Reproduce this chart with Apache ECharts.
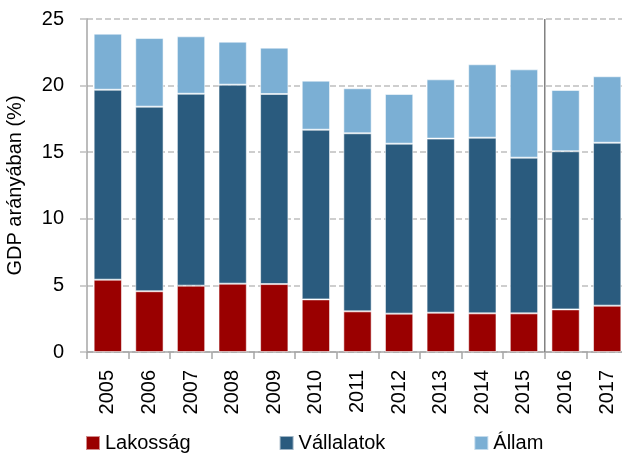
<!DOCTYPE html>
<html>
<head>
<meta charset="utf-8">
<script src="https://cdn.jsdelivr.net/npm/echarts@6/dist/echarts.min.js"></script>
<style>
  html, body { margin: 0; padding: 0; background: #fff; }
  #chart { width: 622px; height: 455px; }
</style>
</head>
<body>
<div id="chart"></div>
<script>
// adatok (GDP arányában, %)
var years = ['2005', '2006', '2007', '2008', '2009', '2010', '2011', '2012', '2013', '2014', '2015', '2016', '2017'];
var lakossag = [5.43, 4.56, 4.98, 5.13, 5.10, 3.95, 3.05, 2.88, 2.95, 2.90, 2.90, 3.20, 3.48];
var vallalatok = [14.26, 13.86, 14.41, 14.94, 14.27, 12.74, 13.37, 12.76, 13.07, 13.19, 11.69, 11.87, 12.23];
var allam = [4.21, 5.15, 4.31, 3.23, 3.48, 3.68, 3.38, 3.73, 4.45, 5.51, 6.63, 4.60, 4.99];
var yTicks = [0, 5, 10, 15, 20, 25];
// függőleges elválasztó 2015 és 2016 között
var dividerPos = 10.5;

var font = 'Liberation Sans';
var chart = echarts.init(document.getElementById('chart'));

function barSeries (name, data, color) {
  return {
    name: name,
    type: 'bar',
    stack: 'gdp',
    barCategoryGap: '32%',
    data: data,
    itemStyle: {
      color: color,
      borderColor: 'rgba(255,255,255,0.55)',
      borderWidth: 1
    }
  };
}

chart.setOption({
  animation: false,
  textStyle: { fontFamily: font },
  grid: { left: 87, top: 19, right: -6, bottom: 103, outerBoundsMode: 'none', containLabel: false },
  legend: {
    left: 85,
    top: 433,
    padding: 0,
    itemWidth: 14,
    itemHeight: 14,
    itemGap: 88,
    icon: 'rect',
    textStyle: { fontSize: 20, color: '#000', fontFamily: font },
    data: ['Lakosság', 'Vállalatok', 'Állam']
  },
  xAxis: [{
    type: 'category',
    data: years,
    axisLine: { lineStyle: { color: '#A6A6A6', width: 1.5 } },
    axisTick: { show: true, length: 7, lineStyle: { color: '#A6A6A6', width: 1.5 } },
    axisLabel: { rotate: 90, margin: 18, fontSize: 20, color: '#000', fontFamily: font, interval: 0 },
    splitLine: { show: false }
  }, {
    // rejtett numerikus tengely az elválasztó vonalhoz
    type: 'value',
    min: -0.5,
    max: years.length - 0.5,
    show: false
  }],
  yAxis: {
    type: 'value',
    min: yTicks[0],
    max: yTicks[yTicks.length - 1],
    interval: 5,
    name: 'GDP arányában (%)',
    nameLocation: 'middle',
    nameGap: 62,
    nameTextStyle: { fontSize: 20, color: '#000', fontFamily: font },
    axisLine: { show: true, onZero: false, lineStyle: { color: '#A6A6A6', width: 1.5 } },
    axisTick: { show: true, length: 7, lineStyle: { color: '#BFBFBF', width: 1.5 } },
    axisLabel: { fontSize: 20, color: '#000', margin: 23, fontFamily: font },
    splitLine: { lineStyle: { color: '#BFBFBF', width: 1.5, type: [6, 3] } }
  },
  series: [
    barSeries('Lakosság', lakossag, '#9A0000'),
    barSeries('Vállalatok', vallalatok, '#2A5B7E'),
    barSeries('Állam', allam, '#7BAFD4'),
    {
      type: 'line',
      xAxisIndex: 1,
      data: [[dividerPos, yTicks[0]], [dividerPos, yTicks[yTicks.length - 1]]],
      symbol: 'none',
      lineStyle: { color: '#808080', width: 1.5 },
      silent: true,
      z: 5
    }
  ]
});
</script>
</body>
</html>
